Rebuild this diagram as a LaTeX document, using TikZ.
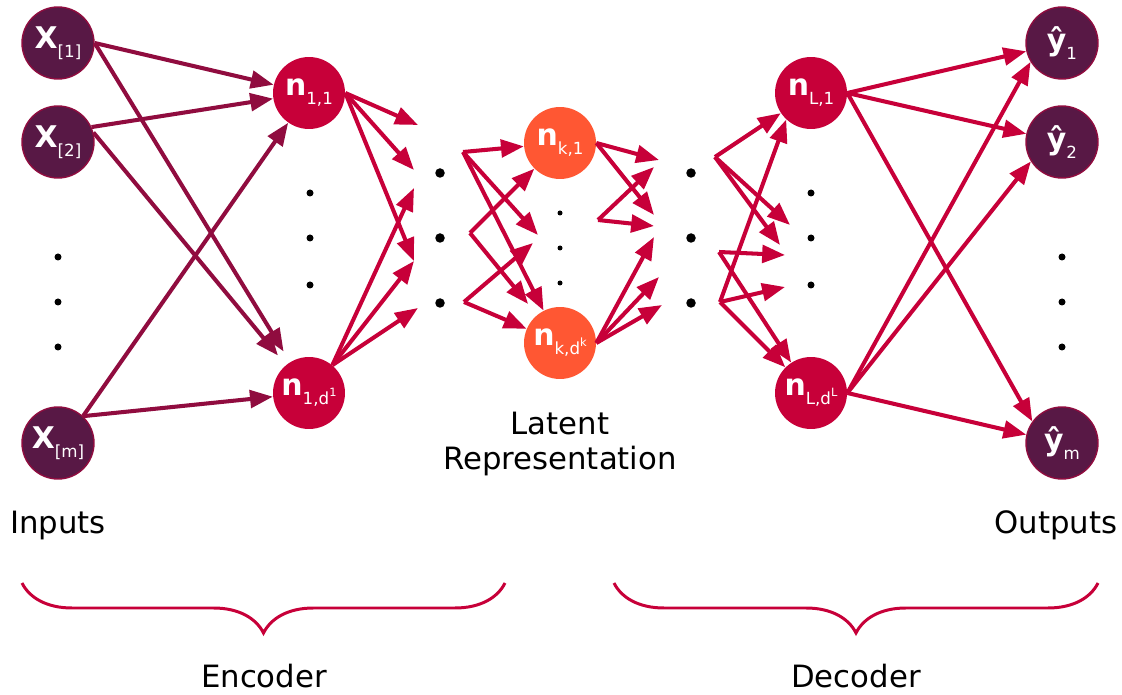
\documentclass[tikz,border=0pt]{standalone}
\usepackage{fontspec}
\setmainfont{DejaVu Sans}
\usetikzlibrary{arrows.meta, decorations.pathreplacing}
\definecolor{inputcol}{HTML}{581845}
\definecolor{edgecol}{HTML}{900C3F}
\definecolor{hiddencol}{HTML}{C70039}
\definecolor{latentcol}{HTML}{FF5733}

\newcommand{\nlab}[2]{\textbf{#1}\raisebox{-5pt}{\fontsize{9.5}{10}\selectfont #2}}
\newcommand{\supd}[1]{\raisebox{4.5pt}{\fontsize{6.5}{7}\selectfont #1}}

\begin{document}
\begin{tikzpicture}[x=0.02cm, y=-0.02cm,
    neuron/.style={circle, minimum size=1.44cm, inner sep=0pt, text=white,
                   font=\fontsize{17}{18}\selectfont},
    io/.style={neuron, fill=inputcol, draw=edgecol, line width=0.8pt},
    hid/.style={neuron, fill=hiddencol},
    lat/.style={neuron, fill=latentcol},
    conn/.style={-{Triangle[length=13pt, width=10pt]}, line width=2.3pt, hiddencol},
    inconn/.style={conn, edgecol},
    groupbrace/.style={decorate, decoration={brace, mirror, amplitude=1cm},
                       line width=1.7pt, hiddencol},
    lbl/.style={font=\fontsize{17.5}{20}\selectfont, align=center}]
    \useasboundingbox (0,0) rectangle (1122,695);

    \node[io] (x1) at (58,43) {\nlab{X}{[1]}};
    \node[io] (x2) at (58,142) {\nlab{X}{[2]}};
    \node[io] (xm) at (58,443) {\nlab{X}{[m]}};
    \node[hid] (n11) at (309,93) {\nlab{n}{1,1}};
    \node[hid] (n1d) at (309,393) {\nlab{n}{1,d\supd{1}}};
    \node[lat] (nk1) at (560,143) {\nlab{n}{k,1}};
    \node[lat] (nkd) at (560,343) {\nlab{n}{k,d\supd{k}}};
    \node[hid] (nL1) at (811,93) {\nlab{n}{L,1}};
    \node[hid] (nLd) at (811,393) {\nlab{n}{L,d\supd{L}}};
    \node[io] (y1) at (1062,43) {\nlab{ŷ}{1}};
    \node[io] (y2) at (1062,142) {\nlab{ŷ}{2}};
    \node[io] (ym) at (1062,443) {\nlab{ŷ}{m}};

    \fill (58,257) circle (0.07cm) (58,302) circle (0.07cm) (58,347) circle (0.07cm);
    \fill (310,193) circle (0.07cm) (310,238) circle (0.07cm) (310,285) circle (0.07cm);
    \fill (440,173) circle (0.095cm) (440,238) circle (0.095cm) (440,303) circle (0.095cm);
    \fill (560,213) circle (0.05cm) (560,248) circle (0.05cm) (560,283) circle (0.05cm);
    \fill (691,173) circle (0.095cm) (691,238) circle (0.095cm) (691,303) circle (0.095cm);
    \fill (811,193) circle (0.07cm) (811,238) circle (0.07cm) (811,285) circle (0.07cm);
    \fill (1062,257) circle (0.07cm) (1062,302) circle (0.07cm) (1062,347) circle (0.07cm);

    \coordinate (e1) at (418,125);
    \coordinate (e2) at (414,170);
    \coordinate (e3) at (414,188);
    \coordinate (e4) at (414,261);
    \coordinate (e5) at (418,308);
    \coordinate (s1) at (463,152);
    \coordinate (s2) at (470,233);
    \coordinate (s3) at (464,302);
    \coordinate (m1) at (538,235);
    \coordinate (m2) at (533,243);
    \coordinate (t1) at (598,220);
    \coordinate (o1) at (659,160);
    \coordinate (o2) at (654,215);
    \coordinate (o3) at (654,226);
    \coordinate (o4) at (654,167);
    \coordinate (o5) at (654,237);
    \coordinate (o6) at (659,277);
    \coordinate (o7) at (662,305);
    \coordinate (u1) at (715,157);
    \coordinate (u2) at (719,252);
    \coordinate (u3) at (720,302);
    \coordinate (p1) at (790,225);
    \coordinate (p2) at (780,245);
    \coordinate (p3) at (785,255);
    \coordinate (p4) at (785,287);

    \draw[inconn] (x1.east) -- (n11);
    \draw[inconn, shorten >=7pt] (x1.east) -- (n1d);
    \draw[inconn] (x2.24) -- (n11);
    \draw[inconn, shorten >=7pt] (x2.15) -- (n1d);
    \draw[inconn] (xm.47) -- (n11);
    \draw[inconn] (xm.47) -- (n1d);

    \draw[conn] (n11.east) -- (e1);
    \draw[conn] (n11.east) -- (e2);
    \draw[conn] (n11.east) -- (e4);
    \draw[conn] (n1d.50) -- (e3);
    \draw[conn] (n1d.50) -- (e4);
    \draw[conn] (n1d.50) -- (e5);

    \draw[conn] (s1) -- (nk1);
    \draw[conn] (s1) -- (m1);
    \draw[conn] (s1) -- (nkd);
    \draw[conn] (s2) -- (nk1);
    \draw[conn, shorten >=8pt] (s2) -- (nkd);
    \draw[conn] (s3) -- (m2);
    \draw[conn] (s3) -- (nkd);

    \draw[conn] (nk1.east) -- (o1);
    \draw[conn] (nk1.east) -- (o2);
    \draw[conn] (t1) -- (o3);
    \draw[conn] (t1) -- (o4);
    \draw[conn] (nkd.east) -- (o5);
    \draw[conn] (nkd.east) -- (o6);
    \draw[conn] (nkd.east) -- (o7);

    \draw[conn] (u1) -- (nL1);
    \draw[conn] (u1) -- (p1);
    \draw[conn] (u1) -- (p2);
    \draw[conn] (u2) -- (p3);
    \draw[conn] (u2) -- (nLd);
    \draw[conn] (u3) -- (nL1.227);
    \draw[conn] (u3) -- (p4);
    \draw[conn] (u3) -- (nLd);

    \draw[conn] (nL1.east) -- (y1);
    \draw[conn] (nL1.east) -- (y2);
    \draw[conn] (nL1.east) -- (ym.144);
    \draw[conn] (nLd.east) -- (y1.211);
    \draw[conn] (nLd.east) -- (y2.212);
    \draw[conn] (nLd.east) -- (ym);

    \node[lbl] (latent) at (560,444) {Latent\\Representation};
    \node[lbl] (inputs) at (58,525) {Inputs};
    \node[lbl] (outputs) at (1056,525) {Outputs};

    \draw[groupbrace] (22,583) -- (505,583);
    \draw[groupbrace] (614,583) -- (1098,583);
    \node[lbl] (encoder) at (264,676) {Encoder};
    \node[lbl] (decoder) at (856,676) {Decoder};
\end{tikzpicture}
\end{document}
